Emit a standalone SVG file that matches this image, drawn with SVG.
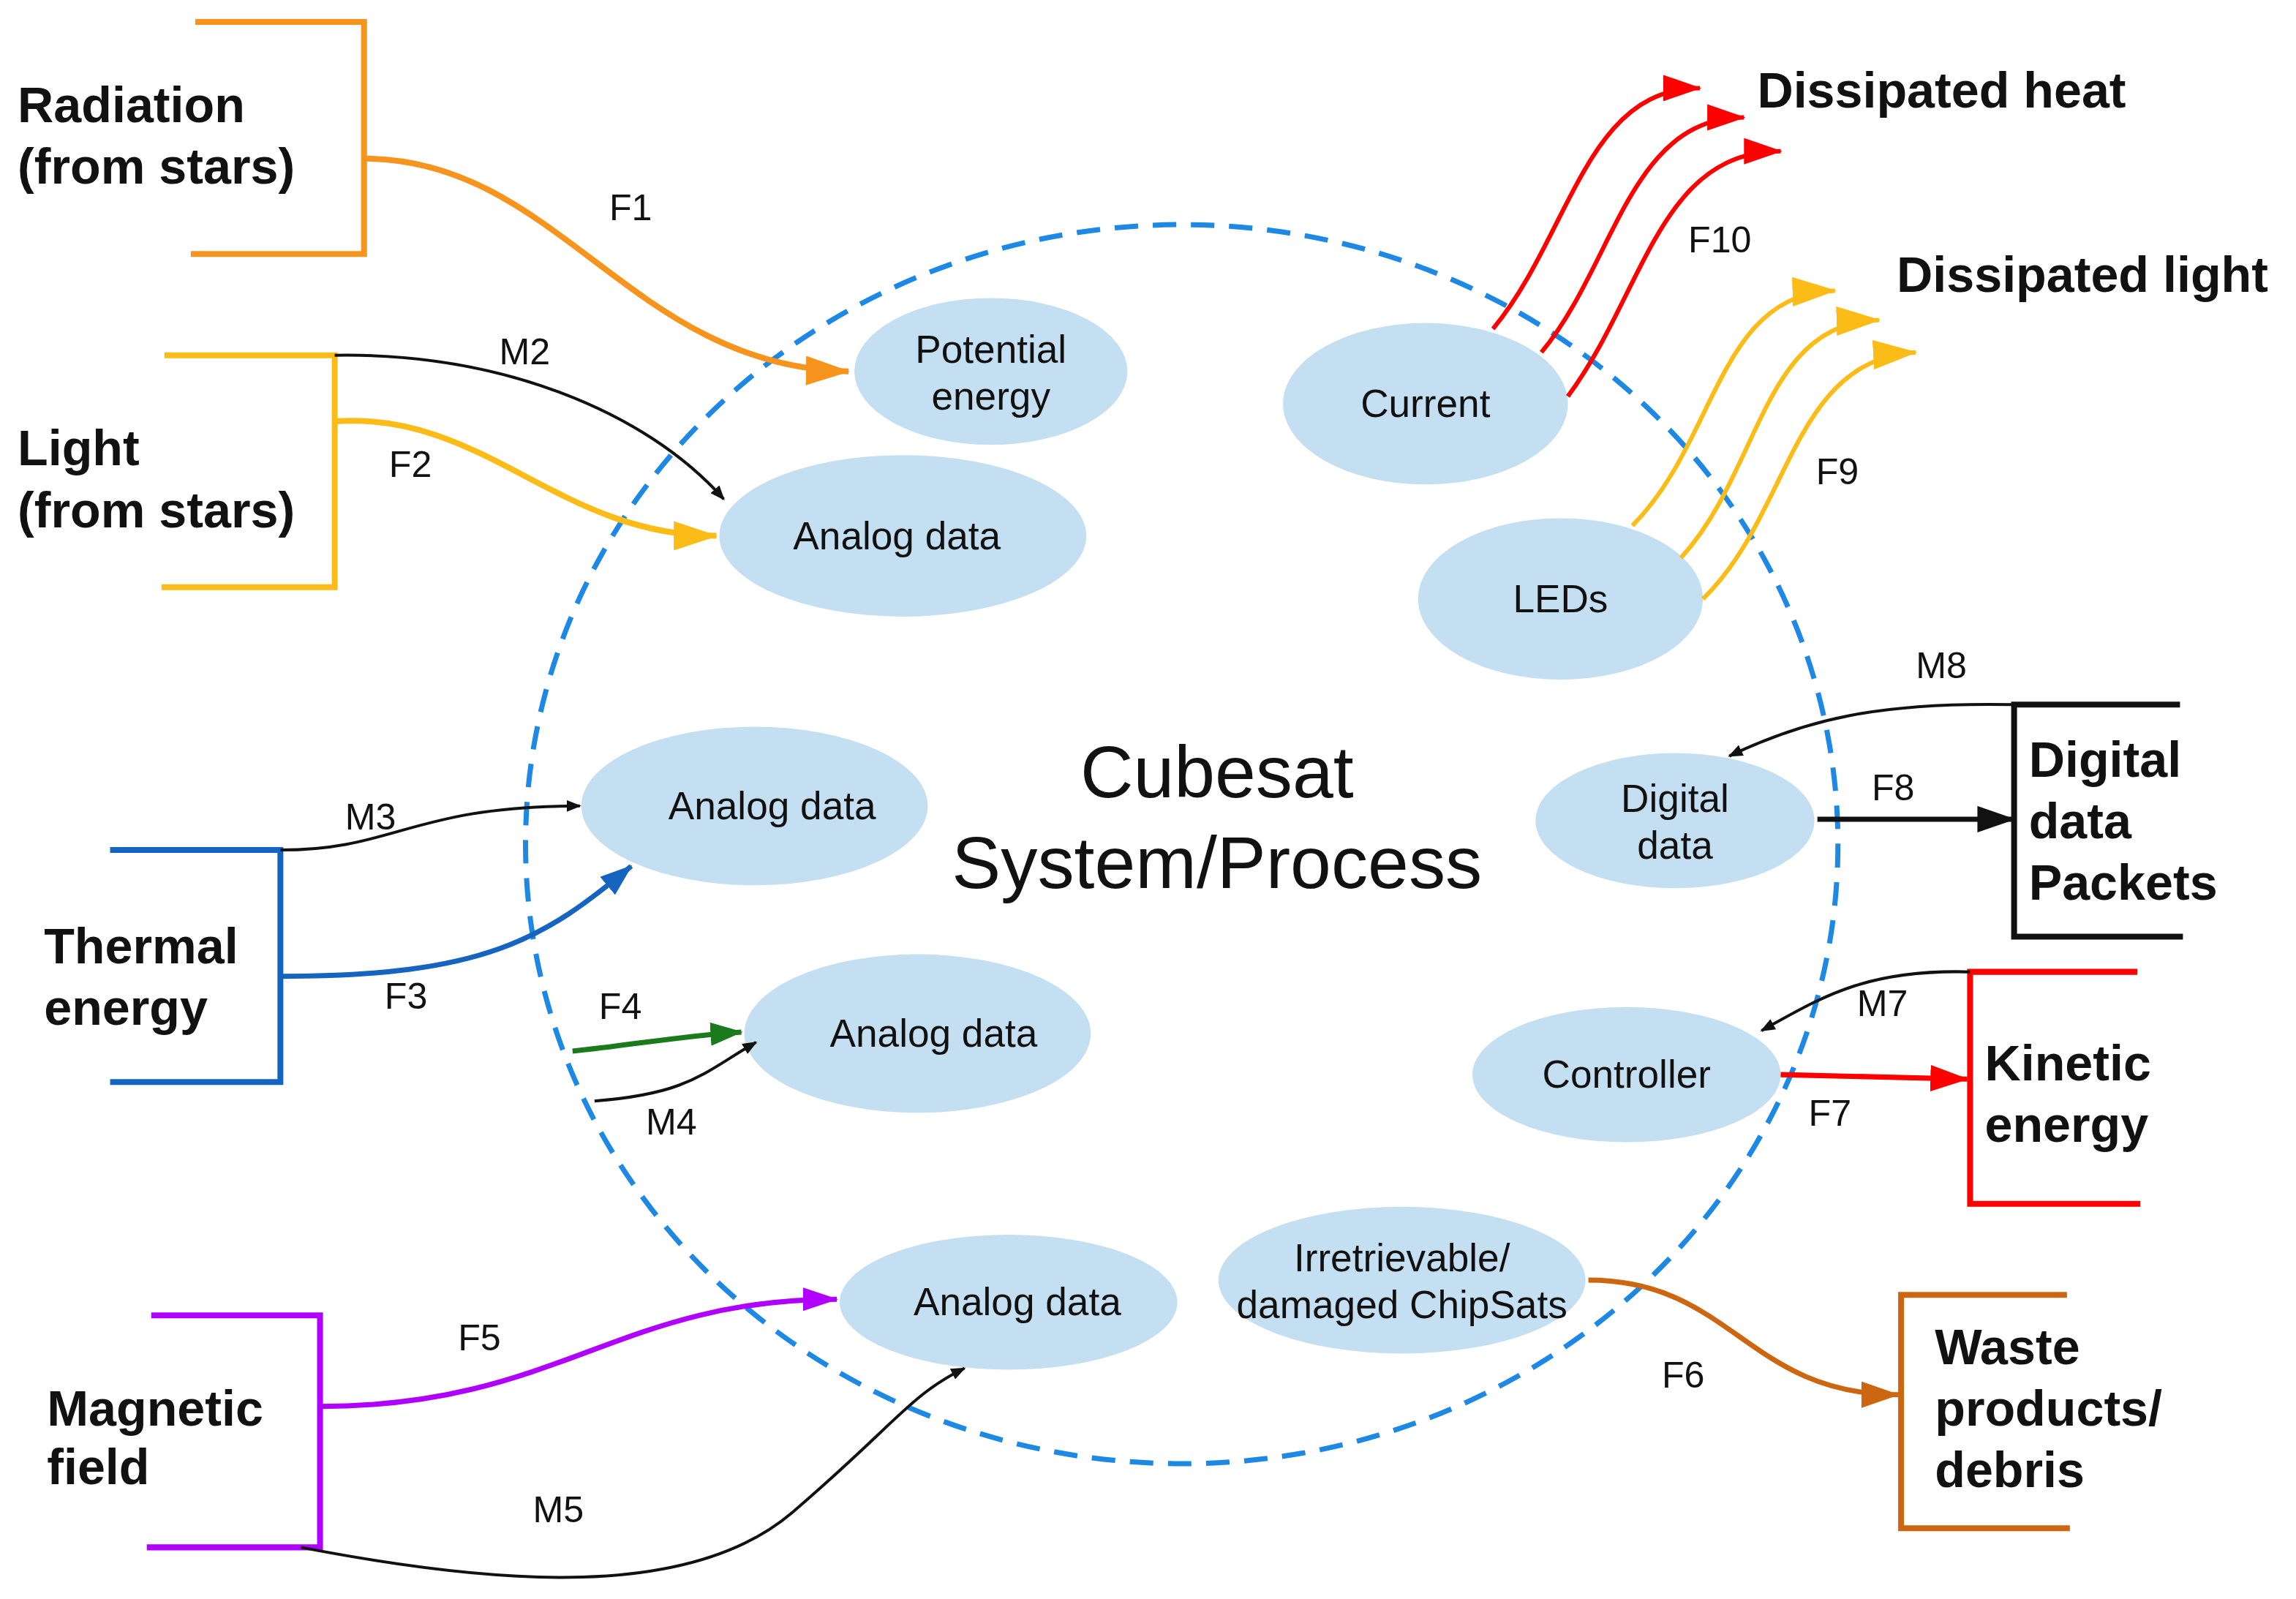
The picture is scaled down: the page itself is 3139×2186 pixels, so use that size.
<svg xmlns="http://www.w3.org/2000/svg" width="3139" height="2186" viewBox="0 0 3139 2186">
<style>
.n{fill:#C5DFF2}
.nt{font-family:"Liberation Sans",Arial,sans-serif;font-size:26.5px;fill:#111;text-anchor:middle}
.lb{font-family:"Liberation Sans",Arial,sans-serif;font-size:25px;fill:#111}
.bt{font-family:"Liberation Sans",Arial,sans-serif;font-size:34px;font-weight:bold;fill:#111}
.c{fill:none}
</style>
<defs>
<marker id="aK" markerWidth="10" markerHeight="8" refX="9" refY="4" orient="auto" markerUnits="userSpaceOnUse"><path d="M0,0L10,4L0,8z" fill="#111"/></marker>
<marker id="aKb" markerWidth="26" markerHeight="18" refX="25" refY="9" orient="auto" markerUnits="userSpaceOnUse"><path d="M0,0L26,9L0,18z" fill="#111"/></marker>
<marker id="aO" markerWidth="30" markerHeight="20" refX="29" refY="10" orient="auto" markerUnits="userSpaceOnUse"><path d="M0,0L30,10L0,20z" fill="#F7941D"/></marker>
<marker id="aY" markerWidth="30" markerHeight="20" refX="29" refY="10" orient="auto" markerUnits="userSpaceOnUse"><path d="M0,0L30,10L0,20z" fill="#FBBC18"/></marker>
<marker id="aB" markerWidth="22" markerHeight="16" refX="21" refY="8" orient="auto" markerUnits="userSpaceOnUse"><path d="M0,0L22,8L0,16z" fill="#1565C0"/></marker>
<marker id="aG" markerWidth="22" markerHeight="16" refX="21" refY="8" orient="auto" markerUnits="userSpaceOnUse"><path d="M0,0L22,8L0,16z" fill="#1B7A1B"/></marker>
<marker id="aP" markerWidth="24" markerHeight="16" refX="23" refY="8" orient="auto" markerUnits="userSpaceOnUse"><path d="M0,0L24,8L0,16z" fill="#B000FF"/></marker>
<marker id="aW" markerWidth="26" markerHeight="18" refX="25" refY="9" orient="auto" markerUnits="userSpaceOnUse"><path d="M0,0L26,9L0,18z" fill="#CC6611"/></marker>
<marker id="aR" markerWidth="26" markerHeight="18" refX="25" refY="9" orient="auto" markerUnits="userSpaceOnUse"><path d="M0,0L26,9L0,18z" fill="#FF0000"/></marker>
</defs>
<rect width="3139" height="2186" fill="#fff"/>
<g transform="scale(2.007)">
<g id="boundary"><ellipse cx="805" cy="575" rx="447" ry="422" fill="none" stroke="#1E88E5" stroke-width="3.5" stroke-dasharray="16 10"/>
<text class="nt" x="829" y="543" style="font-size:50px">Cubesat</text><text class="nt" x="829" y="605" style="font-size:50px">System/Process</text></g>
<g id="n-potential"><ellipse class="n" cx="675" cy="253" rx="93" ry="50"/><text class="nt" x="675" y="247">Potential</text><text class="nt" x="675" y="279">energy</text></g>
<g id="n-analog1"><ellipse class="n" cx="615" cy="365" rx="125" ry="55"/><text class="nt" x="611" y="374">Analog data</text></g>
<g id="n-current"><ellipse class="n" cx="971" cy="275" rx="97" ry="55"/><text class="nt" x="971" y="284">Current</text></g>
<g id="n-leds"><ellipse class="n" cx="1063" cy="408" rx="97" ry="55"/><text class="nt" x="1063" y="417">LEDs</text></g>
<g id="n-analog2"><ellipse class="n" cx="514" cy="549" rx="118" ry="54"/><text class="nt" x="526" y="558">Analog data</text></g>
<g id="n-digital"><ellipse class="n" cx="1141" cy="559" rx="95" ry="46"/><text class="nt" x="1141" y="553">Digital</text><text class="nt" x="1141" y="585">data</text></g>
<g id="n-analog3"><ellipse class="n" cx="625" cy="704" rx="118" ry="54"/><text class="nt" x="636" y="713">Analog data</text></g>
<g id="n-controller"><ellipse class="n" cx="1108" cy="732" rx="105" ry="46"/><text class="nt" x="1108" y="741">Controller</text></g>
<g id="n-analog4"><ellipse class="n" cx="687" cy="887" rx="115" ry="46"/><text class="nt" x="693" y="896">Analog data</text></g>
<g id="n-irretrievable"><ellipse class="n" cx="955" cy="872" rx="125" ry="50"/><text class="nt" x="955" y="866">Irretrievable/</text><text class="nt" x="955" y="898">damaged  ChipSats</text></g>

<g id="radiation"><path d="M133,15H248V173H130" fill="none" stroke="#F7941D" stroke-width="4"/><text class="bt" x="12" y="83">Radiation</text><text class="bt" x="12" y="125">(from stars)</text></g>
<g id="light"><path d="M112,242H228V400H110" fill="none" stroke="#FBBC18" stroke-width="4"/><text class="bt" x="12" y="317">Light</text><text class="bt" x="12" y="359">(from stars)</text></g>
<g id="thermal"><path d="M75,579H191V737H75" fill="none" stroke="#1565C0" stroke-width="4"/><text class="bt" x="30" y="656">Thermal</text><text class="bt" x="30" y="698">energy</text></g>
<g id="magnetic"><path d="M103,896H218V1054H100" fill="none" stroke="#B000FF" stroke-width="4"/><text class="bt" x="32" y="971">Magnetic</text><text class="bt" x="32" y="1011">field</text></g>
<g id="packets"><path d="M1485,480H1372V638H1487" fill="none" stroke="#111" stroke-width="4"/><text class="bt" x="1382" y="529">Digital</text><text class="bt" x="1382" y="571">data</text><text class="bt" x="1382" y="613">Packets</text></g>
<g id="kinetic"><path d="M1456,662H1342V820H1458" fill="none" stroke="#FF0000" stroke-width="4"/><text class="bt" x="1352" y="736">Kinetic</text><text class="bt" x="1352" y="778">energy</text></g>
<g id="waste"><path d="M1408,882H1295V1041H1410" fill="none" stroke="#CC6611" stroke-width="4"/><text class="bt" x="1318" y="929">Waste</text><text class="bt" x="1318" y="971">products/</text><text class="bt" x="1318" y="1013">debris</text></g>
<g id="heat"><text class="bt" x="1197" y="73">Dissipated heat</text></g>
<g id="lightout"><text class="bt" x="1292" y="199">Dissipated light</text></g>

<g id="connectors">
<path class="c" d="M248,108C380,108 430,250 578,253" stroke="#F7941D" stroke-width="4" marker-end="url(#aO)"/>
<path class="c" d="M228,242C340,240 440,280 493,340" stroke="#111" stroke-width="2" marker-end="url(#aK)"/>
<path class="c" d="M228,287C330,280 380,365 488,365" stroke="#FBBC18" stroke-width="4" marker-end="url(#aY)"/>
<path class="c" d="M191,579C270,579 280,549 395,549" stroke="#111" stroke-width="2" marker-end="url(#aK)"/>
<path class="c" d="M191,665C330,665 370,640 430,590" stroke="#1565C0" stroke-width="3.5" marker-end="url(#aB)"/>
<path class="c" d="M390,716C430,712 460,706 505,703" stroke="#1B7A1B" stroke-width="3.5" marker-end="url(#aG)"/>
<path class="c" d="M405,750C470,745 480,730 515,710" stroke="#111" stroke-width="2" marker-end="url(#aK)"/>
<path class="c" d="M218,958C380,958 420,885 570,885" stroke="#B000FF" stroke-width="3.5" marker-end="url(#aP)"/>
<path class="c" d="M205,1054C340,1080 470,1090 540,1030S620,950 657,932" stroke="#111" stroke-width="2" marker-end="url(#aK)"/>
<path class="c" d="M1082,872C1180,872 1190,950 1293,950" stroke="#CC6611" stroke-width="3.5" marker-end="url(#aW)"/>
<path class="c" d="M1213,732L1340,735" stroke="#FF0000" stroke-width="3.5" marker-end="url(#aR)"/>
<path class="c" d="M1342,662C1270,660 1240,680 1200,702" stroke="#111" stroke-width="2" marker-end="url(#aK)"/>
<path class="c" d="M1238,558L1372,558" stroke="#111" stroke-width="3.5" marker-end="url(#aKb)"/>
<path class="c" d="M1372,480C1280,478 1230,490 1178,515" stroke="#111" stroke-width="2" marker-end="url(#aK)"/>
<path class="c" d="M1112,358C1170,300 1170,200 1250,198" stroke="#FBBC18" stroke-width="3" marker-end="url(#aY)"/>
<path class="c" d="M1145,380C1200,320 1200,220 1280,218" stroke="#FBBC18" stroke-width="3" marker-end="url(#aY)"/>
<path class="c" d="M1160,408C1220,350 1220,245 1305,240" stroke="#FBBC18" stroke-width="3" marker-end="url(#aY)"/>
<path class="c" d="M1017,224C1070,160 1080,60 1158,60" stroke="#FF0000" stroke-width="3" marker-end="url(#aR)"/>
<path class="c" d="M1050,240C1100,180 1110,80 1188,80" stroke="#FF0000" stroke-width="3" marker-end="url(#aR)"/>
<path class="c" d="M1068,270C1120,200 1130,103 1213,103" stroke="#FF0000" stroke-width="3" marker-end="url(#aR)"/>
<text class="lb" x="415" y="150">F1</text>
<text class="lb" x="340" y="248">M2</text>
<text class="lb" x="265" y="325">F2</text>
<text class="lb" x="235" y="565">M3</text>
<text class="lb" x="262" y="687">F3</text>
<text class="lb" x="408" y="694">F4</text>
<text class="lb" x="440" y="773">M4</text>
<text class="lb" x="312" y="920">F5</text>
<text class="lb" x="363" y="1037">M5</text>
<text class="lb" x="1132" y="945">F6</text>
<text class="lb" x="1232" y="767">F7</text>
<text class="lb" x="1265" y="692">M7</text>
<text class="lb" x="1275" y="545">F8</text>
<text class="lb" x="1305" y="462">M8</text>
<text class="lb" x="1237" y="330">F9</text>
<text class="lb" x="1150" y="172">F10</text>
</g>
</g>
</svg>
